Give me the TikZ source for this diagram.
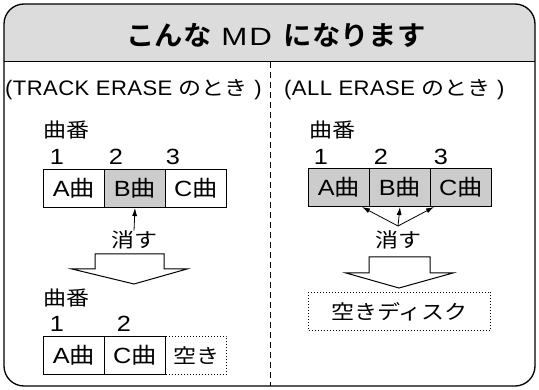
\documentclass[tikz,border=0pt]{standalone}
\usepackage{fontspec}
\setmainfont[FakeStretch=1.15]{Liberation Sans}
\newfontfamily\subf[FakeStretch=1.05,LetterSpace=2]{Liberation Sans}
\newfontfamily\mdf[FakeStretch=1.25,LetterSpace=8]{Liberation Sans}
\newfontfamily\cjk[FakeStretch=1.15]{Noto Sans CJK JP}
\newfontfamily\cjkb[FakeStretch=1.05]{Noto Sans CJK JP Bold}
\newcommand{\jp}[1]{{\cjk #1}}
\usetikzlibrary{arrows.meta}
\definecolor{hdr}{HTML}{DCDCDC}
\definecolor{sel}{HTML}{CCCCCC}
\tikzset{
  trk/.style={draw, line width=1pt, minimum width=61pt, minimum height=38pt, inner sep=0pt, anchor=north west, font=\fontsize{22}{22}\selectfont},
  emptybox/.style={trk, dotted},
  lbl/.style={inner sep=0pt, font=\fontsize{21}{21}\selectfont\subf},
  jlbl/.style={inner sep=0pt, font=\fontsize{20}{20}\selectfont\cjk},
  num/.style={inner sep=0pt, font=\fontsize{22}{22}\selectfont},
  ptr/.style={line width=0.8pt, -{Latex[length=8pt,width=5pt]}},
  bigarrow/.style={draw, line width=1pt, fill=white},
}
\begin{document}
\begin{tikzpicture}[x=1pt,y=-1pt]
\useasboundingbox (0,0) rectangle (539,390);
% frame and header
\begin{scope}
  \clip[rounded corners=20pt] (4,4) rectangle (535,386);
  \fill[hdr] (4,4) rectangle (535,62);
\end{scope}
\draw[line width=1pt] (4,62) -- (535,62);
\draw[line width=1.3pt, rounded corners=20pt] (4,4) rectangle (535,386);
\node[inner sep=0pt] (title) at (276,35) {{\fontsize{27}{27}\selectfont\cjkb こんな}\hspace{10pt}{\fontsize{25}{25}\selectfont\mdf MD}\hspace{12pt}{\fontsize{27}{27}\selectfont\cjkb になります}};
\draw[line width=0.8pt, dash pattern=on 6pt off 4pt] (270,62) -- (270,386);

% left column
\node[lbl, anchor=west] (lsub) at (5,90) {(TRACK ERASE \jp{\fontsize{20}{20}\selectfont のとき} )};
\node[jlbl, anchor=west] (lnum1) at (43,130) {曲番};
\node[num] (l1) at (57,157) {1};
\node[num] (l2) at (116,157) {2};
\node[num] (l3) at (173,157) {3};
\node[trk] (lA) at (43,169) {A\jp{曲}};
\node[trk, fill=sel] (lB) at (104,169) {B\jp{曲}};
\node[trk] (lC) at (165,169) {C\jp{曲}};
\node[jlbl] (lx) at (134,240) {消す};
\draw[ptr] (lx.north) -- (lB.south);
\path[bigarrow] (95,254) -- (164,254) -- (164,269) -- (187,269) -- (134,284) -- (72,269) -- (95,269) -- cycle;
\node[jlbl, anchor=west] (lnum2) at (43,298) {曲番};
\node[num] (m1) at (57,324) {1};
\node[num] (m2) at (124,324) {2};
\node[trk] (mA) at (43,336) {A\jp{曲}};
\node[trk] (mC) at (104,336) {C\jp{曲}};
\node[emptybox, font=\fontsize{20}{20}\selectfont\cjk] (mE) at (165,336) {空き};

% right column
\node[lbl, anchor=west] (rsub) at (284,90) {(ALL ERASE \jp{\fontsize{20}{20}\selectfont のとき} )};
\node[jlbl, anchor=west] (rnum) at (309,130) {曲番};
\node[num] (r1) at (321,157) {1};
\node[num] (r2) at (381,157) {2};
\node[num] (r3) at (441,157) {3};
\node[trk, fill=sel] (rA) at (308,168) {A\jp{曲}};
\node[trk, fill=sel] (rB) at (369,168) {B\jp{曲}};
\node[trk, fill=sel] (rC) at (430,168) {C\jp{曲}};
\coordinate (ro) at (398,226);
\node[jlbl] (rx) at (398,240) {消す};
\draw[ptr] (ro) -- ([xshift=-8pt]rA.south east);
\draw[ptr] (ro) -- (rB.south);
\draw[ptr] (ro) -- ([xshift=3pt]rB.south east);
\path[bigarrow] (369,257) -- (430,257) -- (430,273) -- (453,273) -- (399,288) -- (346,273) -- (369,273) -- cycle;
\node[draw, dotted, line width=1pt, minimum width=182pt, minimum height=38pt, inner sep=0pt, anchor=north west, font=\fontsize{20}{20}\selectfont\cjk] (disc) at (308,292) {空きディスク};
\end{tikzpicture}
\end{document}
